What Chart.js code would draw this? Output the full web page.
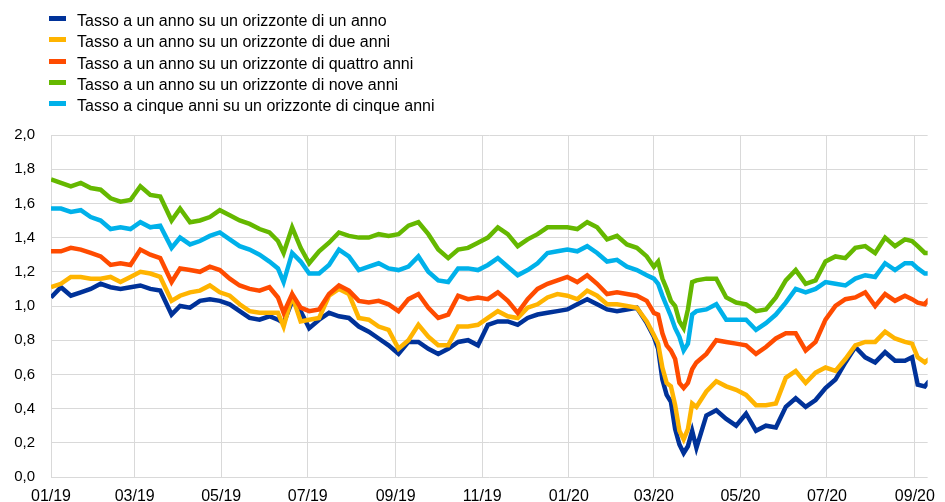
<!DOCTYPE html>
<html>
<head>
<meta charset="utf-8">
<script src="https://cdn.jsdelivr.net/npm/chart.js@4.4.0/dist/chart.umd.min.js"></script>
<style>
    body { margin: 0; background: #fff; }
    .wrap { position: relative; width: 945px; height: 502px; }
    #myChart { position: absolute; left: 0; top: 0; }
    .legend { position: absolute; left: 0; top: 10px; font-family: 'Liberation Sans', Arial, sans-serif; font-size: 16px; color: #000; }
    .legend div { position: relative; height: 21.25px; line-height: 21.25px; padding-left: 77px; white-space: nowrap; }
    .legend span { position: absolute; left: 49px; top: 6px; width: 17px; height: 5px; }
</style>
</head>
<body>
<div class="wrap">
    <canvas id="myChart" width="945" height="502"></canvas>
    <div class="legend" id="legend"></div>
</div>
<script>
// sample dates (read off the chart roughly once a week, denser in March 2020)
const dates = [
    '2019-01-01', '2019-01-08', '2019-01-15', '2019-01-22', '2019-01-29', '2019-02-05', '2019-02-12',
    '2019-02-19', '2019-02-26', '2019-03-05', '2019-03-12', '2019-03-19', '2019-03-27',
    '2019-04-02', '2019-04-09', '2019-04-16', '2019-04-23', '2019-04-30', '2019-05-07', '2019-05-14',
    '2019-05-21', '2019-05-28', '2019-06-04', '2019-06-10', '2019-06-14', '2019-06-20', '2019-06-26',
    '2019-07-02', '2019-07-09',
    '2019-07-16', '2019-07-23', '2019-07-30', '2019-08-06', '2019-08-13', '2019-08-20', '2019-08-27',
    '2019-09-03', '2019-09-10', '2019-09-17', '2019-09-24', '2019-10-01', '2019-10-08', '2019-10-15',
    '2019-10-22',
    '2019-10-29', '2019-11-05', '2019-11-12', '2019-11-19', '2019-11-26', '2019-12-03', '2019-12-10',
    '2019-12-17', '2019-12-24', '2019-12-31', '2020-01-07', '2020-01-14', '2020-01-21', '2020-01-28',
    '2020-02-04',
    '2020-02-11', '2020-02-18', '2020-02-25', '2020-03-01', '2020-03-04', '2020-03-07', '2020-03-10',
    '2020-03-13', '2020-03-16', '2020-03-19', '2020-03-22', '2020-03-25', '2020-03-28', '2020-03-31',
    '2020-04-07', '2020-04-14', '2020-04-21', '2020-04-28', '2020-05-05', '2020-05-12', '2020-05-19',
    '2020-05-26', '2020-06-02', '2020-06-09', '2020-06-16', '2020-06-23', '2020-06-30', '2020-07-07',
    '2020-07-14', '2020-07-21', '2020-07-28', '2020-08-04', '2020-08-11', '2020-08-18', '2020-08-25',
    '2020-08-30', '2020-09-03', '2020-09-08', '2020-09-11'
];

// 1y rate, 1 year ahead
const oneYear = [
    1.05, 1.11, 1.06, 1.08, 1.10, 1.13, 1.11, 1.10, 1.11, 1.12, 1.10, 1.09, 0.95,
    1.00, 0.99, 1.03, 1.04, 1.03, 1.01, 0.97, 0.93, 0.92, 0.94, 0.92, 0.90, 1.03, 0.97, 0.87, 0.92,
    0.96, 0.94, 0.93, 0.88, 0.85, 0.81, 0.77, 0.72, 0.79, 0.79, 0.75, 0.72, 0.75, 0.79, 0.80,
    0.77, 0.89, 0.91, 0.91, 0.89, 0.93, 0.95, 0.96, 0.97, 0.98, 1.01, 1.04, 1.01, 0.98, 0.97,
    0.98, 0.99, 0.90, 0.82, 0.75, 0.57, 0.48, 0.44, 0.28, 0.19, 0.14, 0.18, 0.27, 0.17, 0.36, 0.39, 0.34, 0.30, 0.37, 0.27, 0.30,
    0.29, 0.41, 0.46, 0.41, 0.45, 0.52, 0.57, 0.67, 0.76, 0.70, 0.67, 0.73, 0.68, 0.68, 0.70, 0.54, 0.53, 0.56
];
// 1y rate, 2 years ahead
const twoYears = [
    1.11, 1.13, 1.17, 1.17, 1.16, 1.16, 1.17, 1.14, 1.17, 1.20, 1.19, 1.17, 1.03,
    1.06, 1.08, 1.09, 1.12, 1.08, 1.06, 1.01, 0.97, 0.96, 0.96, 0.96, 0.88, 1.06, 0.91, 0.92, 0.93,
    1.06, 1.10, 1.07, 0.93, 0.92, 0.88, 0.86, 0.75, 0.80, 0.89, 0.82, 0.77, 0.77, 0.88, 0.88,
    0.89, 0.93, 0.97, 0.94, 0.93, 0.99, 1.01, 1.05, 1.07, 1.06, 1.04, 1.09, 1.06, 1.01, 1.01,
    1.00, 0.99, 0.91, 0.83, 0.78, 0.64, 0.55, 0.53, 0.42, 0.27, 0.22, 0.28, 0.43, 0.41, 0.50, 0.56, 0.53, 0.51, 0.48, 0.42, 0.42,
    0.43, 0.58, 0.62, 0.55, 0.61, 0.64, 0.62, 0.69, 0.77, 0.79, 0.79, 0.85, 0.81, 0.79, 0.78, 0.70, 0.67, 0.69
];
// 1y rate, 4 years ahead
const fourYears = [
    1.32, 1.32, 1.34, 1.33, 1.31, 1.29, 1.24, 1.25, 1.24, 1.33, 1.30, 1.28, 1.14,
    1.22, 1.21, 1.20, 1.23, 1.21, 1.16, 1.12, 1.10, 1.09, 1.11, 1.05, 0.96, 1.07, 0.99, 0.97, 0.98,
    1.07, 1.12, 1.09, 1.03, 1.02, 1.03, 1.01, 0.97, 1.04, 1.07, 0.99, 0.93, 0.95, 1.06, 1.04,
    1.05, 1.04, 1.08, 1.03, 0.96, 1.04, 1.10, 1.13, 1.15, 1.17, 1.14, 1.18, 1.13, 1.07, 1.08,
    1.07, 1.06, 1.03, 0.96, 0.95, 0.84, 0.77, 0.74, 0.69, 0.55, 0.52, 0.55, 0.63, 0.67, 0.72, 0.80, 0.79, 0.78, 0.77, 0.72, 0.76,
    0.81, 0.84, 0.84, 0.74, 0.79, 0.92, 1.00, 1.04, 1.05, 1.08, 1.00, 1.07, 1.03, 1.06, 1.04, 1.02, 1.01, 1.04
];
// 1y rate, 9 years ahead
const nineYears = [
    1.74, 1.72, 1.70, 1.72, 1.69, 1.68, 1.63, 1.61, 1.62, 1.70, 1.65, 1.64, 1.50,
    1.57, 1.49, 1.50, 1.52, 1.56, 1.53, 1.50, 1.48, 1.45, 1.43, 1.38, 1.31, 1.46, 1.34, 1.25, 1.32,
    1.37, 1.43, 1.41, 1.40, 1.40, 1.42, 1.41, 1.42, 1.47, 1.49, 1.42, 1.33, 1.28, 1.33, 1.34,
    1.37, 1.40, 1.46, 1.42, 1.35, 1.39, 1.42, 1.46, 1.46, 1.46, 1.45, 1.49, 1.46, 1.39, 1.41,
    1.36, 1.34, 1.29, 1.23, 1.26, 1.16, 1.10, 1.03, 1.00, 0.91, 0.87, 0.98, 1.14, 1.15, 1.16, 1.16, 1.05, 1.02, 1.01, 0.97, 0.98,
    1.05, 1.15, 1.21, 1.13, 1.15, 1.26, 1.29, 1.28, 1.34, 1.35, 1.31, 1.40, 1.35, 1.39, 1.38, 1.35, 1.31, 1.31
];
// 5y5y
const fiveFive = [
    1.57, 1.57, 1.55, 1.56, 1.52, 1.50, 1.45, 1.46, 1.45, 1.49, 1.46, 1.47, 1.34,
    1.40, 1.36, 1.38, 1.41, 1.43, 1.39, 1.35, 1.33, 1.30, 1.26, 1.22, 1.14, 1.31, 1.26, 1.19, 1.19,
    1.24, 1.33, 1.29, 1.21, 1.23, 1.25, 1.22, 1.21, 1.23, 1.29, 1.20, 1.15, 1.14, 1.22, 1.22,
    1.21, 1.24, 1.28, 1.23, 1.18, 1.21, 1.25, 1.31, 1.32, 1.33, 1.32, 1.35, 1.31, 1.26, 1.27,
    1.23, 1.21, 1.18, 1.16, 1.13, 1.06, 1.00, 0.94, 0.87, 0.82, 0.74, 0.78, 0.95, 0.97, 0.98, 1.01, 0.92, 0.92, 0.92, 0.86, 0.90,
    0.95, 1.02, 1.10, 1.08, 1.10, 1.14, 1.13, 1.12, 1.16, 1.18, 1.17, 1.25, 1.21, 1.25, 1.25, 1.22, 1.19, 1.19
];

const seriesNames = [
    'Tasso a un anno su un orizzonte di un anno',
    'Tasso a un anno su un orizzonte di due anni',
    'Tasso a un anno su un orizzonte di quattro anni',
    'Tasso a un anno su un orizzonte di nove anni',
    'Tasso a cinque anni su un orizzonte di cinque anni'
];
const seriesColors = ['rgb(0, 50, 153)', 'rgb(255, 180, 0)', 'rgb(255, 75, 0)', 'rgb(101, 184, 0)', 'rgb(0, 177, 234)'];

// x axis ticks every two months
const tickDates = ['2019-01-01', '2019-03-01', '2019-05-01', '2019-07-01', '2019-09-01', '2019-11-01',
    '2020-01-01', '2020-03-01', '2020-05-01', '2020-07-01', '2020-09-01'];
const tickLabels = ['01/19', '03/19', '05/19', '07/19', '09/19', '11/19', '01/20', '03/20', '05/20', '07/20', '09/20'];
const lastDate = '2020-09-10';

// days since start
const start = Date.UTC(2019, 0, 1);
function dayNum(s) {
    const p = s.split('-');
    return (Date.UTC(+p[0], +p[1] - 1, +p[2]) - start) / 86400000;
}

const xDays = dates.map(dayNum);
const tickDays = tickDates.map(dayNum);

const allSeries = [oneYear, twoYears, fourYears, nineYears, fiveFive];

// legend (html)
const legendEl = document.getElementById('legend');
seriesNames.forEach((name, i) => {
    const row = document.createElement('div');
    row.innerHTML = `<span style="background:${seriesColors[i]}"></span>${name}`;
    legendEl.appendChild(row);
});

const tickFont = { family: "'Liberation Sans', Arial, sans-serif", size: 16 };
const gridColor = '#d9d9d9';

const ctx = document.getElementById('myChart').getContext('2d');

const config = {
    type: 'line',
    data: {
        datasets: allSeries.map((vals, i) => ({
            label: seriesNames[i],
            data: vals.map((v, j) => ({ x: xDays[j], y: v })),
            borderColor: seriesColors[i],
            backgroundColor: seriesColors[i],
            borderWidth: 4.5,
            pointRadius: 0,
            tension: 0,
            // later series on top
            order: allSeries.length - i
        }))
    },
    options: {
        responsive: false,
        animation: false,
        layout: { padding: { top: 135, right: 7, bottom: 0, left: 0 } },
        plugins: {
            legend: { display: false },
            tooltip: { enabled: false }
        },
        scales: {
            x: {
                type: 'linear',
                min: 0,
                max: dayNum(lastDate),
                afterBuildTicks: axis => {
                    axis.ticks = tickDays.map(v => ({ value: v }));
                },
                afterFit: axis => { axis.height = 24; },
                grid: { color: gridColor, drawTicks: false },
                border: { display: false },
                ticks: {
                    autoSkip: false,
                    maxRotation: 0,
                    padding: 10,
                    color: '#000',
                    font: tickFont,
                    callback: (v, idx) => tickLabels[idx]
                }
            },
            y: {
                min: 0,
                max: 2,
                afterFit: axis => { axis.width = 51; },
                grid: { color: gridColor, drawTicks: false },
                border: { display: false },
                ticks: {
                    stepSize: 0.2,
                    padding: 16,
                    color: '#000',
                    font: { family: tickFont.family, size: 15 },
                    callback: v => v.toFixed(1).replace('.', ',')
                }
            }
        }
    }
};

const chart = new Chart(ctx, config);
</script>
</body>
</html>
